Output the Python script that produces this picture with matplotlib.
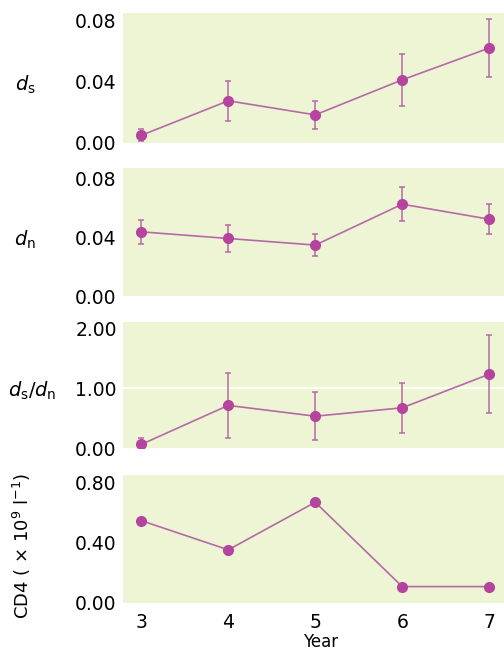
import matplotlib
matplotlib.use('Agg')
import matplotlib.pyplot as plt

plt.rcParams['font.family'] = ['DejaVu Sans']
plt.rcParams['mathtext.fontset'] = 'dejavusans'

# data
years = [3, 4, 5, 6, 7]
ds = [0.005, 0.0276, 0.0184, 0.0413, 0.0621]
ds_err = [0.004, 0.013, 0.009, 0.017, 0.019]
dn = [0.0436, 0.0391, 0.0346, 0.0624, 0.0522]
dn_err = [0.008, 0.009, 0.0075, 0.0115, 0.010]
ratio = [0.06, 0.71, 0.53, 0.67, 1.23]
ratio_err = [0.10, 0.54, 0.40, 0.42, 0.65]
cd4 = [0.547, 0.353, 0.669, 0.109, 0.109]

bg = '#eef5d4'
mcol = '#b5449f'
lcol = '#b56aa6'

fig = plt.figure(figsize=(5.04, 6.51), dpi=100)

W = 504.0
H = 651.0
ax_left = 123 / W

# top and bottom pixel rows of each panel
rows = [(13, 143), (168, 296), (322, 448), (475, 603)]

# (values, errors, ylim, yticks, label, label x px, label y px)
panels = [
    (ds, ds_err, (0, 0.085), [0.0, 0.04, 0.08], r'$d_\mathrm{s}$', 25, 85),
    (dn, dn_err, (0, 0.087), [0.0, 0.04, 0.08], r'$d_\mathrm{n}$', 25, 240),
    (ratio, ratio_err, (0, 2.1), [0.0, 1.0, 2.0], r'$d_\mathrm{s}/d_\mathrm{n}$', 32, 391),
    (cd4, None, (0, 0.85), [0.0, 0.4, 0.8], None, 0, 0),
]

axes = []
for (top, bot), (vals, err, ylim, yt, lab, lx, ly) in zip(rows, panels):
    ax = fig.add_axes([ax_left, 1 - bot / H, 1 - ax_left, (bot - top) / H])
    ax.set_facecolor(bg)
    for s in ax.spines.values():
        s.set_visible(False)
    ax.set_xlim(2.79, 7.17)
    ax.set_ylim(*ylim)
    ax.set_yticks(yt)
    ax.set_yticklabels(['%.2f' % v for v in yt])
    ax.tick_params(axis='y', length=0, labelsize=13.5, pad=4.5)
    ax.plot(years, vals, color=lcol, lw=1.2, zorder=2)
    if err is not None:
        ax.errorbar(years, vals, yerr=err, fmt='none', ecolor=lcol,
                    elinewidth=1.1, capsize=2.2, capthick=1.1, zorder=2)
    ax.plot(years, vals, 'o', color=mcol, ms=7, zorder=3)
    if lab is not None:
        fig.text(lx / W, 1 - ly / H, lab, fontsize=14,
                 ha='center', va='center')
    axes.append(ax)

# white reference line at ratio = 1
axes[2].axhline(1.0, color='white', lw=1.3, zorder=1)

for ax in axes[:3]:
    ax.set_xticks([])

axes[3].set_xticks(years)
axes[3].set_xticklabels([str(y) for y in years])
axes[3].tick_params(axis='x', length=0, labelsize=13.5, pad=7)
fig.text(321 / W, 1 - 642 / H, 'Year', fontsize=12, ha='center', va='center')
fig.text(22 / W, 1 - 546 / H, r'CD4 ( $\times$ 10$^9$ l$^{-1}$)',
         fontsize=13, rotation=90, ha='center', va='center')

fig.savefig('out.png', dpi=100)
